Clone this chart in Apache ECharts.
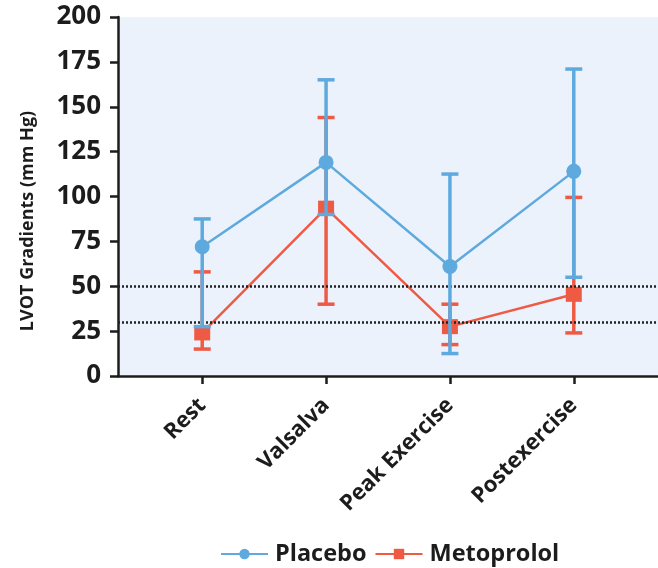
<!DOCTYPE html>
<html>
<head>
<meta charset="utf-8">
<script src="https://cdn.jsdelivr.net/npm/echarts@6/dist/echarts.min.js"></script>
<style>
html,body{margin:0;padding:0;background:#fff;}
#c{width:658px;height:568px;}
</style>
</head>
<body>
<div id="c"></div>
<script>
const categories = ['Rest', 'Valsalva', 'Peak Exercise', 'Postexercise'];
const placeboMean = [72, 119, 61, 114];
const placeboLow = [27.5, 90, 12.5, 55];
const placeboHigh = [87.5, 165, 112.5, 171];
const metoprololMean = [24, 93.5, 27.5, 45.5];
const metoprololLow = [15, 40, 17.5, 24];
const metoprololHigh = [58, 144, 40, 99.5];
const yTicks = [0, 25, 50, 75, 100, 125, 150, 175, 200];
const refLines = [50, 30];

const BLUE = '#5ea9dd';
const RED = '#ef5a45';
const INK = '#1c1c1c';
const FONT = '"Open Sans", "Noto Sans", sans-serif';

function pts(arr) { return arr.map((v, i) => [i, v]); }
function errData(lo, hi) { return lo.map((v, i) => [i, v, hi[i]]); }

function errRender(color, width) {
  return function (params, api) {
    const x = api.value(0);
    const lo = api.coord([x, api.value(1)]);
    const hi = api.coord([x, api.value(2)]);
    const hw = 8.5;
    const st = { stroke: color, lineWidth: width };
    return {
      type: 'group',
      children: [
        { type: 'line', shape: { x1: lo[0], y1: lo[1], x2: hi[0], y2: hi[1] }, style: st },
        { type: 'line', shape: { x1: lo[0] - hw, y1: lo[1], x2: lo[0] + hw, y2: lo[1] }, style: st },
        { type: 'line', shape: { x1: hi[0] - hw, y1: hi[1], x2: hi[0] + hw, y2: hi[1] }, style: st }
      ]
    };
  };
}

const chart = echarts.init(document.getElementById('c'), null, { renderer: 'canvas' });
chart.setOption({
  animation: false,
  textStyle: { fontFamily: FONT },
  grid: { left: 118, right: 0, top: 17, bottom: 192, show: true, backgroundColor: '#ebf2fb', borderWidth: 0 },
  xAxis: {
    type: 'value', min: -0.68, max: 3.68,
    splitLine: { show: false },
    axisLine: { show: true, onZero: false, lineStyle: { color: INK, width: 2.5 } },
    axisTick: { show: true, customValues: [0, 1, 2, 3], length: 8, lineStyle: { color: INK, width: 2.5 } },
    axisLabel: {
      customValues: [0, 1, 2, 3], rotate: 45, margin: 26,
      formatter: v => categories[Math.round(v)],
      color: INK, fontSize: 22, fontWeight: 'bold', fontFamily: FONT
    }
  },
  yAxis: {
    type: 'value', min: 0, max: 200, interval: 25,
    splitLine: { show: false },
    axisLine: { show: true, onZero: false, lineStyle: { color: INK, width: 2.5 } },
    axisTick: { show: true, length: 8, lineStyle: { color: INK, width: 2.5 } },
    axisLabel: {
      customValues: yTicks, margin: 17,
      color: INK, fontSize: 26, fontWeight: 'bold', fontFamily: FONT
    }
  },
  legend: {
    top: 537, left: 215,
    itemWidth: 47, itemHeight: 13, itemGap: 8,
    data: ['Placebo', 'Metoprolol'],
    textStyle: { color: INK, fontSize: 23.5, fontWeight: 'bold', fontFamily: FONT, padding: [0, 0, 0, 2] }
  },
  graphic: [{
    type: 'text', x: 28, y: 221, rotation: Math.PI / 2,
    style: {
      text: 'LVOT Gradients (mm Hg)', fill: INK, fontSize: 18, fontWeight: 'bold', fontFamily: FONT,
      align: 'center', verticalAlign: 'middle'
    }
  }],
  series: [
    {
      name: 'Metoprolol', type: 'line', data: pts(metoprololMean), z: 2,
      symbol: 'rect', symbolSize: [16, 15],
      itemStyle: { color: RED }, lineStyle: { color: RED, width: 2.5 },
      markLine: {
        silent: true, symbol: 'none', label: { show: false },
        lineStyle: { color: '#222', type: [2, 2], width: 2.5 },
        data: refLines.map(v => ({ yAxis: v }))
      }
    },
    {
      name: 'MetoErr', type: 'custom', z: 3,
      renderItem: errRender(RED, 3.5),
      data: errData(metoprololLow, metoprololHigh)
    },
    {
      name: 'Placebo', type: 'line', data: pts(placeboMean), z: 4,
      symbol: 'circle', symbolSize: 15,
      itemStyle: { color: BLUE }, lineStyle: { color: BLUE, width: 2.5 }
    },
    {
      name: 'PlaErr', type: 'custom', z: 5,
      renderItem: errRender(BLUE, 3.5),
      data: errData(placeboLow, placeboHigh)
    }
  ]
});
</script>
</body>
</html>
